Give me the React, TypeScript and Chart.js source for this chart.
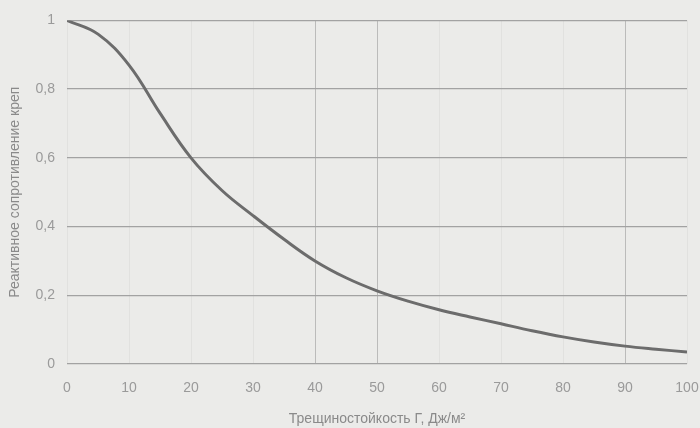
import React, { useEffect, useRef } from "react";
import { Chart, registerables } from "chart.js";

Chart.register(...registerables);

const xValues = [0, 5, 10, 15, 20, 25, 30, 35, 40, 45, 50, 55, 60, 65, 70, 75, 80, 85, 90, 95, 100];
const yValues = [1.0, 0.96, 0.87, 0.73, 0.6, 0.505, 0.432, 0.363, 0.3, 0.251, 0.213, 0.183, 0.158, 0.137, 0.117, 0.097, 0.079, 0.064, 0.052, 0.043, 0.035];
const strongVerticalGrid = [40, 50, 90];

const xTitle = "Трещиностойкость Г, Дж/м²";
const yTitle = "Реактивное сопротивление креп";

export default function App() {
  const ref = useRef<HTMLCanvasElement | null>(null);

  useEffect(() => {
    document.body.style.margin = "0";
    document.body.style.background = "#ebebe9";
    const ctx = ref.current;
    if (!ctx) return;
    const font = { family: "'Liberation Sans', Arial, sans-serif", size: 14 };
    const chart = new Chart(ctx, {
      type: "line",
      data: {
        datasets: [
          {
            data: xValues.map((x, i) => ({ x, y: yValues[i] })),
            borderColor: "#6c6c6c",
            borderWidth: 3,
            pointRadius: 0,
            tension: 0.4,
            fill: false,
          },
        ],
      },
      options: {
        animation: false,
        responsive: false,
        maintainAspectRatio: false,
        layout: { padding: { top: 19, right: 13, bottom: 0, left: 0 } },
        plugins: { legend: { display: false }, tooltip: { enabled: false } },
        scales: {
          x: {
            type: "linear",
            min: 0,
            max: 100,
            ticks: { stepSize: 10, color: "#9a9a9a", font, padding: 16 },
            grid: {
              drawTicks: false,
              color: (c: any) =>
                strongVerticalGrid.includes(c.tick?.value) ? "rgba(140,140,140,0.5)" : "rgba(140,140,140,0.1)",
              lineWidth: 1,
            },
            border: { display: false },
            title: { display: true, text: xTitle, color: "#8a8a8a", font, padding: { top: 0, bottom: 0 } },
            afterFit: (s: any) => {
              s.height = 64;
              s.paddingLeft = 0;
              s.paddingRight = 0;
            },
          },
          y: {
            min: 0,
            max: 1,
            ticks: {
              stepSize: 0.2,
              color: "#9a9a9a",
              font,
              padding: 12,
              callback: (v: any) => (Number(v) === 0 || Number(v) === 1 ? String(v) : Number(v).toFixed(1).replace(".", ",")),
            },
            grid: { drawTicks: false, color: "#a2a2a2", lineWidth: 1.3 },
            border: { display: false },
            title: { display: true, text: yTitle, color: "#8a8a8a", font, padding: { top: 7, bottom: 0 } },
            afterFit: (s: any) => {
              s.width = 67;
            },
          },
        },
      },
    });
    return () => chart.destroy();
  }, []);

  return (
    <div style={{ width: 700, height: 428, background: "#ebebe9" }}>
      <canvas ref={ref} width={700} height={428} style={{ display: "block" }} />
    </div>
  );
}
